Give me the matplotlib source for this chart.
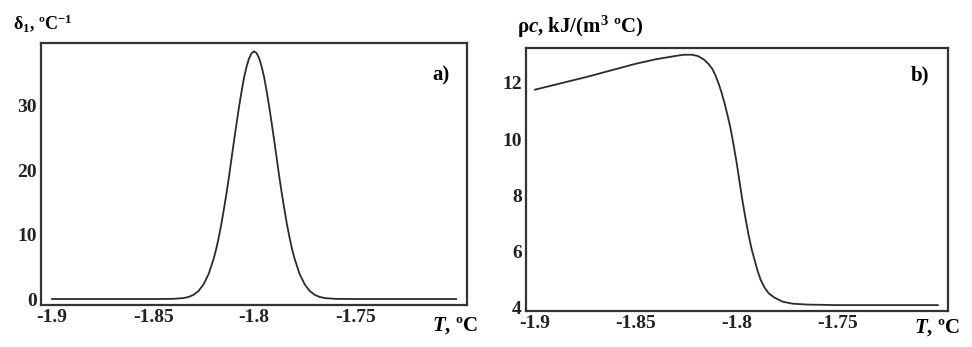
import matplotlib
matplotlib.use('Agg')
import matplotlib.pyplot as plt

# a) delta_1 vs T
t_a = [-1.90, -1.86, -1.85, -1.84, -1.835, -1.8325, -1.83, -1.8275, -1.825, -1.8225,
       -1.82, -1.81875, -1.8175, -1.81625, -1.815, -1.81375, -1.8125, -1.81125, -1.81,
       -1.80875, -1.8075, -1.80625, -1.805, -1.80375, -1.8025, -1.80125, -1.80,
       -1.79875, -1.7975, -1.79625, -1.795, -1.79375, -1.7925, -1.79125, -1.79,
       -1.78875, -1.7875, -1.78625, -1.785, -1.78375, -1.7825, -1.78125, -1.78,
       -1.7775, -1.775, -1.7725, -1.77, -1.7675, -1.765, -1.76, -1.75, -1.74, -1.70]
delta_a = [0.0, 0.0, 0.0, 0.03, 0.15, 0.32, 0.65, 1.25, 2.3, 3.9,
           6.3, 7.8, 9.6, 11.6, 13.9, 16.3, 18.9, 21.7, 24.5,
           27.2, 29.8, 32.2, 34.4, 36.1, 37.4, 38.2, 38.5,
           38.2, 37.4, 36.1, 34.4, 32.2, 29.8, 27.2, 24.5,
           21.7, 18.9, 16.3, 13.9, 11.6, 9.6, 7.8, 6.3,
           3.9, 2.3, 1.25, 0.65, 0.32, 0.15, 0.03, 0.0, 0.0, 0.0]

# b) rho*c vs T
t_b = [-1.90, -1.875, -1.85, -1.84, -1.835, -1.83, -1.826, -1.822, -1.819, -1.816,
       -1.814, -1.812, -1.8105, -1.809, -1.8075, -1.806, -1.8045, -1.803, -1.8015,
       -1.800, -1.7985, -1.797, -1.7955, -1.794, -1.7925, -1.791, -1.7895, -1.788,
       -1.786, -1.784, -1.781, -1.777, -1.772, -1.765, -1.75, -1.70]
rhoc_b = [11.76, 12.2, 12.68, 12.84, 12.9, 12.96, 13.0, 13.0, 12.95, 12.82,
          12.68, 12.5, 12.28, 12.0, 11.68, 11.3, 10.87, 10.4, 9.82,
          9.2, 8.5, 7.8, 7.18, 6.6, 6.1, 5.7, 5.32, 5.0,
          4.72, 4.52, 4.36, 4.22, 4.15, 4.12, 4.1, 4.1]

xticks = [-1.9, -1.85, -1.8, -1.75]
xtick_labels = ['-1.9', '-1.85', '-1.8', '-1.75']
yticks_a = [0, 10, 20, 30]
yticks_b = [4, 6, 8, 10, 12]

plt.rcParams['font.family'] = ['Liberation Serif', 'DejaVu Serif']
plt.rcParams['font.weight'] = 'bold'
plt.rcParams['mathtext.fontset'] = 'custom'
plt.rcParams['mathtext.rm'] = 'Liberation Serif:bold'
plt.rcParams['mathtext.it'] = 'Liberation Serif:italic:bold'
plt.rcParams['mathtext.bf'] = 'Liberation Serif:bold'

INK = '#2b2b2b'
FS = 14

fig = plt.figure(figsize=(9.72, 3.47), dpi=100)
ax1 = fig.add_axes([0.0422, 0.121, 0.4383, 0.756])
ax2 = fig.add_axes([0.5412, 0.1037, 0.4342, 0.758])

ax1.plot(t_a, delta_a, color=INK, lw=1.3)
ax1.set_xlim(-1.9055, -1.6946)
ax1.set_ylim(-0.93, 39.84)
ax1.set_yticks(yticks_a)

ax2.plot(t_b, rhoc_b, color=INK, lw=1.3)
ax2.set_xlim(-1.9045, -1.6949)
ax2.set_ylim(3.89, 13.24)
ax2.set_yticks(yticks_b)

for ax in (ax1, ax2):
    ax.set_xticks(xticks)
    ax.set_xticklabels(xtick_labels)
    ax.tick_params(length=0, labelsize=FS, colors='#222222', pad=3)
    for lab in ax.get_xticklabels() + ax.get_yticklabels():
        lab.set_fontweight('bold')
    for sp in ax.spines.values():
        sp.set_linewidth(1.6)
        sp.set_color('#333333')

# axis labels / panel tags
fig.text(13 / 972, 1 - 23 / 347, r'δ$_1$, ºC$^{-1}$', fontsize=13, va='center',
         ha='left', fontweight='bold')
fig.text(517 / 972, 1 - 27 / 347, r'ρ$c$, kJ/(m$^3$ ºC)', fontsize=15, va='center',
         ha='left', fontweight='bold')
fig.text(441 / 972, 1 - 75 / 347, 'a)', fontsize=15, va='center', ha='center',
         fontweight='bold')
fig.text(920 / 972, 1 - 75 / 347, 'b)', fontsize=15, va='center', ha='center',
         fontweight='bold')
fig.text(455 / 972, 1 - 326 / 347, r'$T$, ºC', fontsize=15, va='center',
         ha='center')
fig.text(937 / 972, 1 - 328 / 347, r'$T$, ºC', fontsize=15, va='center',
         ha='center')

fig.savefig('out.png', dpi=100)
